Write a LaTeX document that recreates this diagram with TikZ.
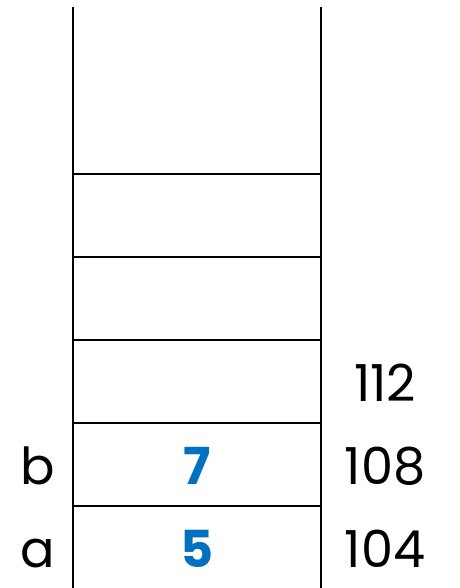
\documentclass[tikz,border=0pt]{standalone}
\usepackage{fontspec}
\setmainfont{Poppins}[Numbers=Monospaced]
\usepackage{tikz}
\usetikzlibrary{positioning}
\definecolor{valblue}{HTML}{0070C0}

\begin{document}
\begin{tikzpicture}[x=1pt,y=-1pt,
    line width=2.7pt,
    txt/.style={font=\fontsize{51}{51}\selectfont,inner sep=0pt,anchor=base},
    val/.style={txt,text=valblue,font=\fontsize{51}{51}\selectfont\bfseries}]
        \useasboundingbox (0,0) rectangle (459,588);
        \coordinate (tl) at (73,7);
        \coordinate (bl) at (73,588);
        \coordinate (tr) at (321,7);
        \coordinate (br) at (321,588);
        \draw (tl) -- (bl);
        \draw (tr) -- (br);
        \foreach \y in {174,257,340,423,506}
            \draw (73,\y) -- (321,\y);
        % addresses
        \node[txt] (addr112) at (385,401) {112};
        \node[txt] (addr108) at (385,484) {108};
        \node[txt] (addr104) at (385,567) {104};
        % variable names
        \node[txt] (varb) at (38,484) {b};
        \node[txt] (vara) at (38,567) {a};
        % values
        \node[val] (valb) at (197,484) {7};
        \node[val] (vala) at (197,567) {5};
    \end{tikzpicture}
\end{document}
